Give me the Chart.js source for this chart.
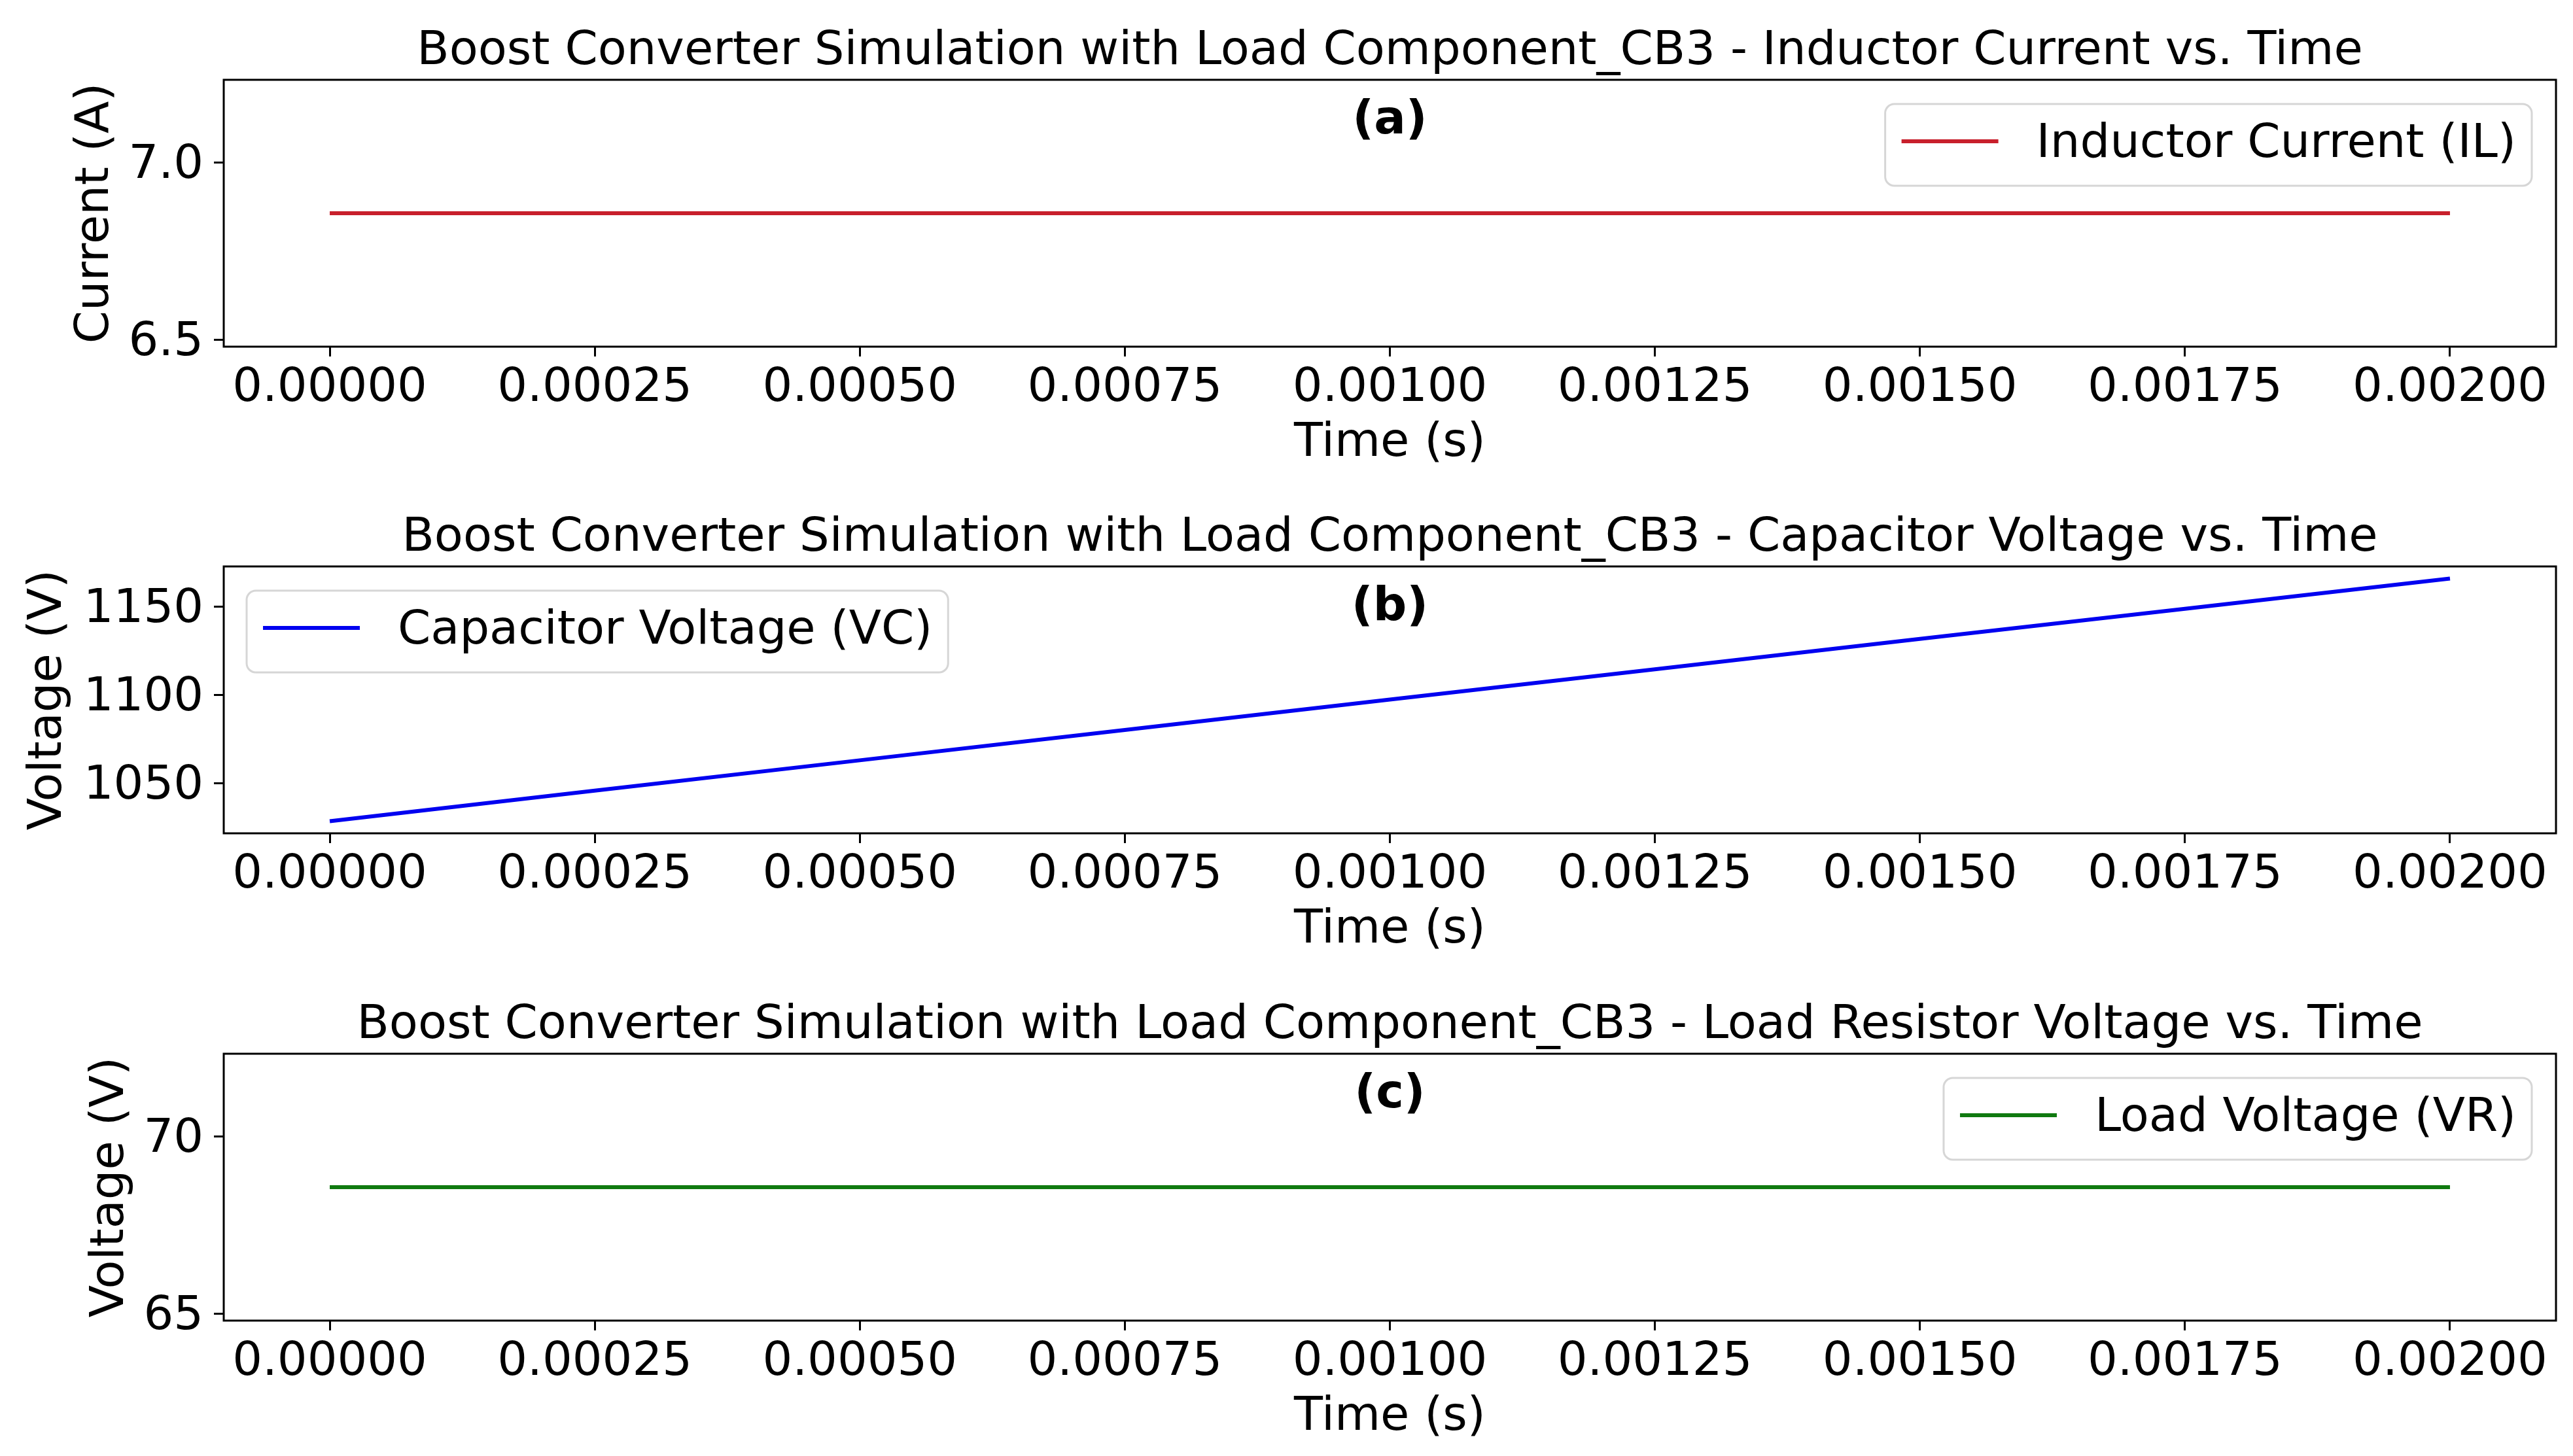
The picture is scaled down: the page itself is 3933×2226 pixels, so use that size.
<!DOCTYPE html>
<html>
<head>
<meta charset="utf-8">
<script src="https://cdn.jsdelivr.net/npm/chart.js@4.4.1/dist/chart.umd.min.js"></script>
<style>
  html, body { margin: 0; padding: 0; background: #fff; overflow: hidden; }
  body { width: 3933px; height: 2226px; position: relative; }
  .panel { position: absolute; left: 0; width: 3933px; height: 730px; }
</style>
</head>
<body>
<div class="panel" style="top:0px"><canvas id="chartIL" width="3933" height="730"></canvas></div>
<div class="panel" style="top:744px"><canvas id="chartVC" width="3933" height="730"></canvas></div>
<div class="panel" style="top:1489px"><canvas id="chartVR" width="3933" height="730"></canvas></div>
<script>
// time samples (s) and x tick marks
const timeSamples = [0, 0.00025, 0.0005, 0.00075, 0.001, 0.00125, 0.0015, 0.00175, 0.002];
const timeTicks = [0, 0.00025, 0.0005, 0.00075, 0.001, 0.00125, 0.0015, 0.00175, 0.002];

// series
const inductorCurrent = [6.857, 6.857, 6.857, 6.857, 6.857, 6.857, 6.857, 6.857, 6.857];
const capacitorVoltage = [1028.5, 1045.8, 1063.0, 1080.2, 1097.4, 1114.6, 1131.8, 1148.9, 1166.0];
const loadVoltage = [68.57, 68.57, 68.57, 68.57, 68.57, 68.57, 68.57, 68.57, 68.57];

// y tick marks
const currentTicks = [6.5, 7.0];
const capVoltTicks = [1050, 1100, 1150];
const loadVoltTicks = [65, 70];

const FONT = '"DejaVu Sans"';
const FS = 72;
Chart.defaults.font.family = FONT;
Chart.defaults.color = '#000';

// matplotlib-like autoscale: flat data gets +-5%, then 5% margins
function mplRange(vals) {
  let lo = Math.min(...vals), hi = Math.max(...vals);
  if (hi - lo < 1e-12) { lo -= 0.05 * Math.abs(lo); hi += 0.05 * Math.abs(hi); }
  const m = 0.05 * (hi - lo);
  return [lo - m, hi + m];
}

function roundRectPath(ctx, x, y, w, h, r) {
  ctx.beginPath();
  ctx.moveTo(x + r, y);
  ctx.arcTo(x + w, y, x + w, y + h, r);
  ctx.arcTo(x + w, y + h, x, y + h, r);
  ctx.arcTo(x, y + h, x, y, r);
  ctx.arcTo(x, y, x + w, y, r);
  ctx.closePath();
}

// axes frame, panel tag and matplotlib style legend
const mplFrame = {
  id: 'mplFrame',
  afterDraw(chart, args, opts) {
    const { ctx, chartArea: a } = chart;
    ctx.save();
    ctx.strokeStyle = '#000';
    ctx.lineWidth = 3;
    ctx.strokeRect(a.left, a.top, a.right - a.left, a.bottom - a.top);

    ctx.fillStyle = '#000';
    ctx.textAlign = 'center';
    ctx.textBaseline = 'middle';
    ctx.font = 'bold ' + FS + 'px ' + FONT;
    ctx.fillText(opts.tag, (a.left + a.right) / 2, a.top + 63);

    const ds = chart.data.datasets[0];
    ctx.font = FS + 'px ' + FONT;
    const tw = ctx.measureText(ds.label).width;
    const w = 231 + tw + 24, h = 125;
    const x = opts.side === 'left' ? a.left + 35 : a.right - 37 - w;
    const y = a.top + 37;
    roundRectPath(ctx, x, y, w, h, 14);
    ctx.fillStyle = 'rgba(255,255,255,0.8)';
    ctx.fill();
    ctx.strokeStyle = '#d6d6d6';
    ctx.lineWidth = 3;
    ctx.stroke();

    ctx.strokeStyle = ds.borderColor;
    ctx.lineWidth = 6;
    ctx.beginPath();
    ctx.moveTo(x + 25, y + 57);
    ctx.lineTo(x + 173, y + 57);
    ctx.stroke();

    ctx.fillStyle = '#000';
    ctx.textAlign = 'left';
    ctx.fillText(ds.label, x + 231, y + 62);
    ctx.restore();
  }
};

function makePanel(id, opts) {
  const [ymin, ymax] = mplRange(opts.values);
  new Chart(document.getElementById(id), {
    type: 'line',
    data: {
      datasets: [{
        label: opts.label,
        data: timeSamples.map((t, i) => ({ x: t, y: opts.values[i] })),
        borderColor: opts.color,
        borderWidth: 6,
        pointRadius: 0,
        tension: 0,
        fill: false
      }]
    },
    options: {
      responsive: false,
      animation: false,
      devicePixelRatio: 1,
      layout: { padding: { left: 0, right: 26, top: 0, bottom: 0 } },
      scales: {
        x: {
          type: 'linear',
          min: -0.0001,
          max: 0.0021,
          afterBuildTicks: (s) => { s.ticks = timeTicks.map(v => ({ value: v })); },
          afterFit: (s) => { s.height = 200; },
          ticks: {
            font: { size: FS, lineHeight: 1 },
            color: '#000',
            padding: 13,
            maxRotation: 0,
            autoSkip: false,
            callback: (v) => Number(v).toFixed(5)
          },
          grid: { drawOnChartArea: false, drawTicks: true, tickLength: 15, color: '#000', lineWidth: 3 },
          border: { display: false },
          title: {
            display: true,
            text: 'Time (s)',
            font: { size: FS, lineHeight: 1 },
            color: '#000',
            padding: { top: 0, bottom: 16 }
          }
        },
        y: {
          type: 'linear',
          min: ymin,
          max: ymax,
          afterBuildTicks: (s) => { s.ticks = opts.ticks.map(v => ({ value: v })); },
          afterFit: (s) => { s.width = 342; },
          ticks: {
            font: { size: FS, lineHeight: 1 },
            color: '#000',
            padding: 16,
            labelOffset: 5,
            autoSkip: false,
            callback: (v) => Number(v).toFixed(opts.decimals)
          },
          grid: { drawOnChartArea: false, drawTicks: true, tickLength: 15, color: '#000', lineWidth: 3 },
          border: { display: false },
          title: {
            display: true,
            text: opts.yTitle,
            font: { size: FS, lineHeight: 1 },
            color: '#000',
            padding: { top: opts.yTitlePad, bottom: 0 }
          }
        }
      },
      plugins: {
        legend: { display: false },
        tooltip: { enabled: false },
        title: {
          display: true,
          text: opts.title,
          fullSize: false,
          color: '#000',
          font: { size: FS, weight: 'normal', lineHeight: 1 },
          padding: { top: 43.5, bottom: 6.5 }
        },
        mplFrame: { tag: opts.tag, side: opts.side }
      }
    },
    plugins: [mplFrame]
  });
}

makePanel('chartIL', {
  title: 'Boost Converter Simulation with Load Component_CB3 - Inductor Current vs. Time',
  label: 'Inductor Current (IL)',
  values: inductorCurrent,
  ticks: currentTicks,
  decimals: 1,
  color: '#c8202c',
  yTitle: 'Current (A)',
  yTitlePad: 110,
  tag: '(a)',
  side: 'right'
});

makePanel('chartVC', {
  title: 'Boost Converter Simulation with Load Component_CB3 - Capacitor Voltage vs. Time',
  label: 'Capacitor Voltage (VC)',
  values: capacitorVoltage,
  ticks: capVoltTicks,
  decimals: 0,
  color: '#0000f0',
  yTitle: 'Voltage (V)',
  yTitlePad: 38,
  tag: '(b)',
  side: 'left'
});

makePanel('chartVR', {
  title: 'Boost Converter Simulation with Load Component_CB3 - Load Resistor Voltage vs. Time',
  label: 'Load Voltage (VR)',
  values: loadVoltage,
  ticks: loadVoltTicks,
  decimals: 0,
  color: '#107a10',
  yTitle: 'Voltage (V)',
  yTitlePad: 133,
  tag: '(c)',
  side: 'right'
});
</script>
</body>
</html>
